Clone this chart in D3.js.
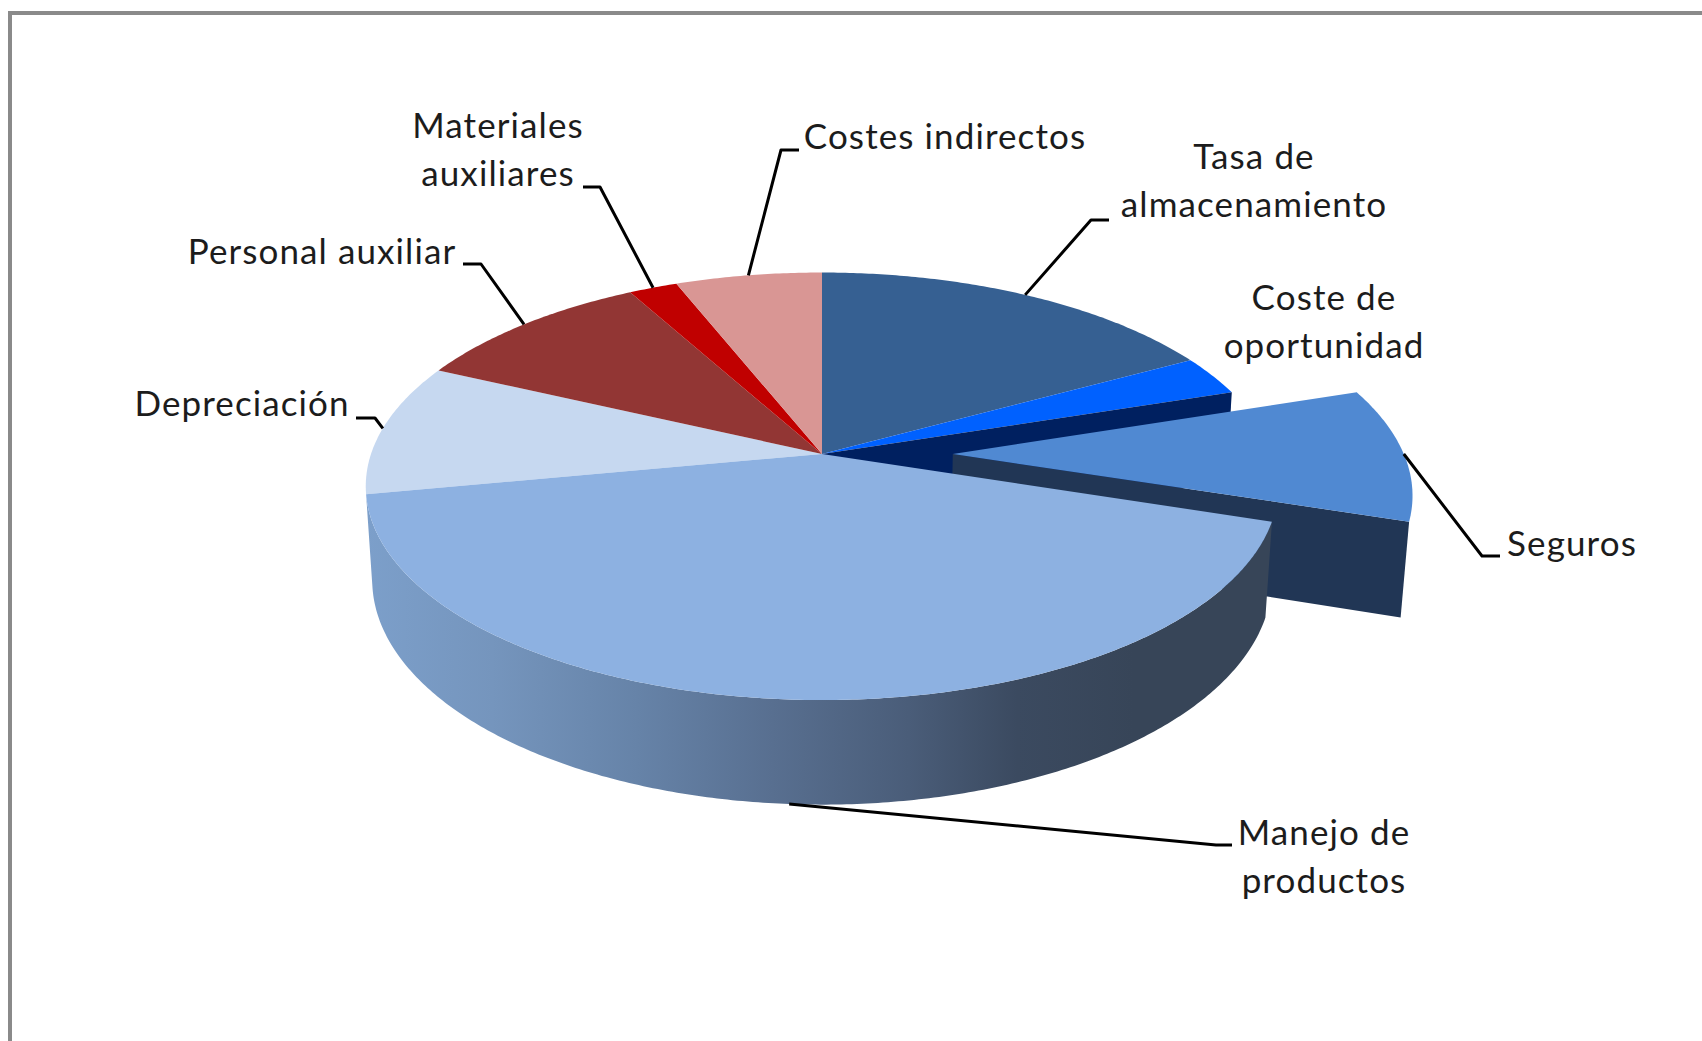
<!DOCTYPE html>
<html>
<head>
<meta charset="utf-8">
<script src="https://d3js.org/d3.v7.min.js"></script>
<style>
html,body{margin:0;padding:0;background:#fff;overflow:hidden}
svg{display:block}
text{font-family:Lato,"Open Sans",sans-serif;fill:#1c1c1c;letter-spacing:1.1px}
</style>
</head>
<body>
<svg id="chart" width="1702" height="1041"></svg>
<script>
// ---- data
const categories = ["Tasa de almacenamiento","Coste de oportunidad","Seguros","Manejo de productos","Depreciación","Personal auxiliar","Materiales auxiliares","Costes indirectos"];
const shares = [17,3,10,42,10,10,2,6];
const topColors = ["#366092","#0061ff","#5089d2","#8db1e1","#c6d8f0","#923634","#c00000","#d99694"];
const explode = [0,0,0.29,0,0,0,0,0];
const labelLines = [["Tasa de","almacenamiento"],["Coste de","oportunidad"],["Seguros"],["Manejo de","productos"],["Depreciación"],["Personal auxiliar"],["Materiales","auxiliares"],["Costes indirectos"]];

// ---- layout (separate from data): label anchor, first baseline, leader start and elbow
const labelLayout = [
  {x:1254,y:169,sx:1109,sy:220,ex:1091,ey:220},
  {x:1324,y:310},
  {x:1572,y:556,sx:1500,sy:556,ex:1482,ey:556},
  {x:1324,y:845,sx:1232,sy:845,ex:1216,ey:845,bottom:true},
  {x:242,y:416,sx:356,sy:418,ex:375,ey:418},
  {x:322,y:264,sx:463,sy:264,ex:481,ey:264},
  {x:498,y:138,sx:583,sy:187,ex:600,ey:187},
  {x:945,y:149,sx:799,sy:150,ex:781,ey:150}
];

const W=1702,H=1041,cx=822,cy=454,k=0.151,d=0.014;
const xUnit=d3.scaleLinear().domain([-1,1]).range([-451,451]);
const yUnit=d3.scaleLinear().domain([-1,1]).range([208.9,-208.9]);
const depthUnit=d3.scaleLinear().domain([0,1]).range([0,93.7]);

function P(X,Y,z){
  const den=1+k*Y+d*z;
  return [cx+xUnit(X)/den, cy+(yUnit(Y)+depthUnit(z))/den];
}
function rim(a,off,z){return P(Math.sin(a)+off,Math.cos(a),z);}
function arcPts(a0,a1,off,z){
  const n=Math.max(2,Math.ceil(Math.abs(a1-a0)/0.01));
  return d3.range(n+1).map(i=>rim(a0+(a1-a0)*i/n,off,z));
}
const line=d3.line();
const closed=pts=>line(pts)+"Z";

const arcs=d3.pie().sort(null).value(v=>v)(shares);
const svg=d3.select("#chart");

// gradient for the front wall
const grad=svg.append("defs").append("linearGradient")
  .attr("id","wall").attr("gradientUnits","userSpaceOnUse")
  .attr("x1",366).attr("x2",1270).attr("y1",0).attr("y2",0);
[[0,"#7c9fca"],[0.14,"#7595bd"],[0.3,"#6683a8"],[0.45,"#586f90"],[0.6,"#4a5d79"],[0.72,"#3b4a60"],[0.85,"#374558"],[1,"#374558"]]
 .forEach(s=>grad.append("stop").attr("offset",s[0]).attr("stop-color",s[1]));

// frame
svg.append("path").attr("d",`M10,${H+5}V13H${W+5}`).attr("fill","none").attr("stroke","#8a8a8a").attr("stroke-width",4);

const g=svg.append("g");
const face=(a,off)=>closed([P(off,0,0),...arcPts(a.startAngle,a.endAngle,off,0)]);

// back slices, top faces
arcs.forEach((a,i)=>{ if(i!==2&&i!==3) g.append("path").attr("d",face(a,0)).attr("fill",topColors[i]); });

// Coste de oportunidad cut wall, exposed by the exploded slice
const c=arcs[1];
g.append("path").attr("d",closed([P(0,0,0),rim(c.endAngle,0,0),rim(c.endAngle,0,1),P(0,0,1)])).attr("fill","#002060");

// Seguros: cut wall, top
const s=arcs[2],so=explode[2];
g.append("path").attr("d",closed([P(so,0,0),rim(s.endAngle,so,0),rim(s.endAngle,so,1),P(so,0,1)])).attr("fill","#213655");
g.append("path").attr("d",face(s,so)).attr("fill",topColors[2]);

// Manejo: wall + top
const m=arcs[3];
g.append("path").attr("d",closed([...arcPts(m.startAngle,m.endAngle,0,0),...arcPts(m.endAngle,m.startAngle,0,1)])).attr("fill","url(#wall)");
g.append("path").attr("d",face(m,0)).attr("fill",topColors[3]);

// leaders + labels
const fs=35, lh=48;
arcs.forEach((a,i)=>{
  const L=labelLayout[i], mid=(a.startAngle+a.endAngle)/2;
  if(L.ex!==undefined){
    const end=L.bottom?rim(mid,explode[i],1):rim(mid,explode[i],0);
    g.append("path").attr("d",line([[L.sx,L.sy],[L.ex,L.ey],end]))
      .attr("fill","none").attr("stroke","#000").attr("stroke-width",3).attr("stroke-linejoin","round");
  }
  const t=svg.append("text").attr("text-anchor","middle").attr("font-size",fs)
     .attr("data-cat",categories[i]);
  labelLines[i].forEach((ln,j)=>t.append("tspan").attr("x",L.x).attr("y",L.y+j*lh).text(ln));
});
</script>
</body>
</html>
